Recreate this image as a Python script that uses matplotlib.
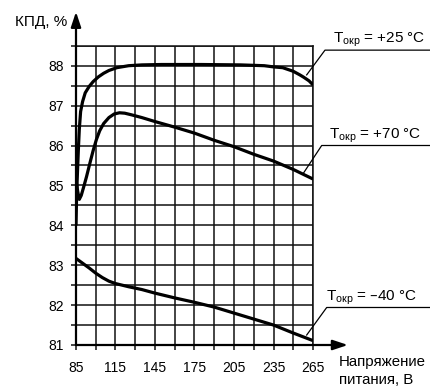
import numpy as np
import matplotlib
matplotlib.use('Agg')
import matplotlib.pyplot as plt

# КПД vs supply voltage at three ambient temperatures
v_p25 = [85, 85.5, 86.2, 86.8, 87.5, 88.5, 90, 92, 95, 98, 102, 106, 110, 116, 125, 135,
         150, 180, 210, 228, 235, 242, 250, 255, 258, 262, 265]
eff_p25 = [84.0, 84.8, 85.4, 85.9, 86.4, 86.85, 87.1, 87.32, 87.48, 87.6, 87.72, 87.81, 87.88,
           87.95, 88.0, 88.02, 88.03, 88.03, 88.02, 88.0, 87.97, 87.95, 87.86, 87.77, 87.71,
           87.62, 87.52]

v_p70 = [85, 86.3, 87.5, 89, 91, 93, 95.5, 98, 100.5, 103, 106, 110, 114, 118, 122, 127,
         135, 145, 160, 175, 190, 205, 220, 235, 250, 265]
eff_p70 = [85.15, 84.85, 84.65, 84.75, 84.98, 85.22, 85.55, 85.87, 86.15, 86.37, 86.55, 86.7,
           86.79, 86.82, 86.81, 86.77, 86.7, 86.6, 86.46, 86.31, 86.13, 85.97, 85.78, 85.61,
           85.4, 85.16]

v_m40 = [85, 90, 95, 100, 105, 110, 115, 125, 135, 145, 160, 175, 190, 205, 220, 235, 250, 265]
eff_m40 = [83.17, 83.05, 82.93, 82.8, 82.69, 82.6, 82.54, 82.46, 82.39, 82.3, 82.18, 82.07,
           81.95, 81.8, 81.65, 81.5, 81.3, 81.11]

x_ticks = np.arange(85, 266, 15)
x_labels = [str(v) if (v - 85) % 30 == 0 else '' for v in x_ticks]
y_ticks = np.arange(81, 89, 1)

labels = ['T$_{окр}$ = +25 °C', 'T$_{окр}$ = +70 °C', 'T$_{окр}$ = \u201340 °C']

plt.rcParams['font.family'] = ['Liberation Sans', 'DejaVu Sans']
plt.rcParams['mathtext.default'] = 'regular'

fig = plt.figure(figsize=(4.31, 3.89), dpi=100)
ax = fig.add_axes([76 / 431, 44 / 389, 237 / 431, 299.25 / 389])

ax.set_xlim(85, 265)
ax.set_ylim(81, 88.5)

grid_kw = dict(color='#111111', lw=1.1, zorder=1)
for xv in x_ticks:
    ax.axvline(xv, **grid_kw)
for yv in np.arange(81.5, 88.51, 0.5):
    ax.axhline(yv, **grid_kw)

for v, e in [(v_p25, eff_p25), (v_p70, eff_p70), (v_m40, eff_m40)]:
    ax.plot(v, e, color='black', lw=2.3, solid_capstyle='butt', zorder=3)

ax.set_xticks(x_ticks)
ax.set_xticklabels(x_labels)
ax.set_yticks(y_ticks)
ax.set_yticks(np.arange(81.5, 88.6, 0.5), minor=True)
ax.tick_params(axis='both', which='both', direction='out', length=3.5, width=1.1,
               color='#111111', labelsize=10)
ax.tick_params(axis='x', pad=8)
ax.tick_params(axis='y', pad=5)

for s in ['top', 'right']:
    ax.spines[s].set_linewidth(1.1)
    ax.spines[s].set_color('#111111')
for s in ['left', 'bottom']:
    ax.spines[s].set_visible(False)

# axes with arrows
arr = dict(arrowstyle='-|>,head_length=0.9,head_width=0.3', lw=1.6, color='black',
           shrinkA=0, shrinkB=0)
ax.annotate('', xy=(85, 89.35), xytext=(85, 81), arrowprops=arr, annotation_clip=False)
ax.annotate('', xy=(291.5, 81), xytext=(85, 81), arrowprops=arr, annotation_clip=False)

ax.text(78, 89.0, 'КПД, %', ha='right', va='baseline', fontsize=11)
ax.text(284.5, 80.47, 'Напряжение', ha='left', va='baseline', fontsize=10.8)
ax.text(285.0, 80.03, 'питания, В', ha='left', va='baseline', fontsize=10.8)

# curve labels with leader lines
lab_x = [280.2, 277.2, 274.8]
lab_y = [88.58, 86.18, 82.11]
line_y = [88.39, 86.0, 81.94]
line_x0 = [274.1, 271.6, 275.4]
tip_x = [260.2, 257.6, 260.2]
tip_y = [87.77, 85.30, 81.25]
for i in range(3):
    ax.text(lab_x[i], lab_y[i], labels[i], ha='left', va='baseline', fontsize=11)
    ax.plot([tip_x[i], line_x0[i], 360], [tip_y[i], line_y[i], line_y[i]],
            color='black', lw=0.9, clip_on=False, zorder=4)

fig.savefig('out.png', dpi=100)
